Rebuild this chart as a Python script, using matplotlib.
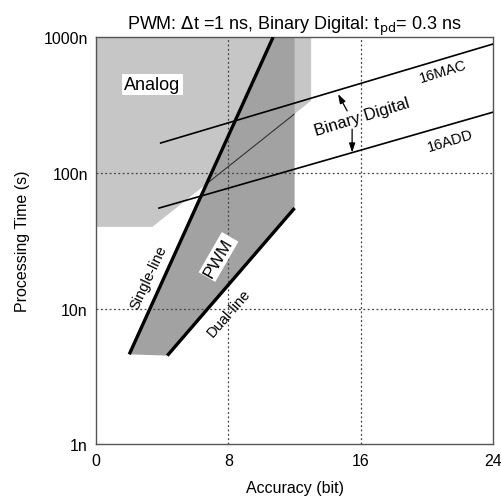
import matplotlib
matplotlib.use("Agg")
import matplotlib.pyplot as plt
from matplotlib.patches import Polygon
import numpy as np

plt.rcParams['font.family'] = ['Liberation Sans', 'DejaVu Sans']

# processing time in ns versus accuracy in bits
analog_bits = [0, 13, 13, 3.4, 0]
analog_ns = [1000, 1000, 340, 40, 40]

single_bits = [2.0, 10.7]
single_ns = [4.6, 1000]
dual_bits = [4.3, 12.0]
dual_ns = [4.5, 55]

mac_bits = [3.9, 24]
mac_ns = [166, 890]
add_bits = [3.8, 24]
add_ns = [55, 280]

xticks = [0, 8, 16, 24]
yticks = [1, 10, 100, 1000]
ytick_labels = ['1n', '10n', '100n', '1000n']

fig = plt.figure(figsize=(5.01, 5.02), dpi=100)
ax = fig.add_axes([0.192, 0.113, 0.792, 0.811])
ax.set_yscale('log')
ax.set_xlim(0, 24)
ax.set_ylim(1, 1000)

# analog region (light) and PWM region (darker), PWM drawn over analog
analog = Polygon(np.column_stack([analog_bits, analog_ns]), closed=True,
                 facecolor='#c6c6c6', edgecolor='none', zorder=1)
ax.add_patch(analog)
pwm_bits = [single_bits[0], dual_bits[0], dual_bits[1], dual_bits[1], single_bits[1]]
pwm_ns = [single_ns[0], dual_ns[0], dual_ns[1], 1000, single_ns[1]]
pwm = Polygon(np.column_stack([pwm_bits, pwm_ns]), closed=True,
              facecolor='#a2a2a2', edgecolor='none', zorder=2)
ax.add_patch(pwm)

# analog boundary only shows where it crosses the PWM area
edge, = ax.plot(analog_bits[2:4], analog_ns[2:4], color='#333333', lw=0.8, zorder=3)
edge.set_clip_path(pwm)

# dotted grid
for x in [8, 16]:
    ax.axvline(x, color='#444444', lw=0.9, ls=(0, (1.5, 2)), zorder=3)
for y in [10, 100]:
    ax.axhline(y, color='#444444', lw=0.9, ls=(0, (1.5, 2)), zorder=3)

ax.plot(single_bits, single_ns, color='black', lw=2.4, zorder=4, solid_capstyle='butt')
ax.plot(dual_bits, dual_ns, color='black', lw=2.4, zorder=4, solid_capstyle='butt')
ax.plot(mac_bits, mac_ns, color='black', lw=1.2, zorder=4)
ax.plot(add_bits, add_ns, color='black', lw=1.2, zorder=4)

white = dict(facecolor='white', edgecolor='none', pad=1.5)
ax.text(3.4, 450, 'Analog', fontsize=13, ha='center', va='center', bbox=white, zorder=5)
ax.text(7.4, 24, 'PWM', fontsize=12.5, ha='center', va='center', rotation=60,
        bbox=white, zorder=5)
ax.text(3.15, 17, 'Single-line', fontsize=10.5, ha='center', va='center', rotation=65, zorder=5)
ax.text(8.0, 9.4, 'Dual-line', fontsize=10.5, ha='center', va='center', rotation=49, zorder=5)

ax.text(16.1, 262, 'Binary Digital', fontsize=12, ha='center', va='center',
        rotation=17, zorder=5)
ax.text(21.0, 560, '16MAC', fontsize=10.5, ha='center', va='center', rotation=17, zorder=5)
ax.text(21.4, 175, '16ADD', fontsize=10.5, ha='center', va='center', rotation=17, zorder=5)
arrow = dict(arrowstyle='-|>,head_length=0.55,head_width=0.18', color='black', lw=0.9,
             shrinkA=0, shrinkB=0)
ax.annotate('', xy=(14.63, 381), xytext=(15.18, 286), arrowprops=arrow, zorder=5)
ax.annotate('', xy=(15.48, 141), xytext=(15.48, 210), arrowprops=arrow, zorder=5)

ax.set_xticks(xticks)
ax.set_yticks(yticks)
ax.set_yticklabels(ytick_labels)
ax.minorticks_off()
ax.tick_params(length=0, labelsize=11.5, pad=6)
for s in ax.spines.values():
    s.set_color('#555555')
    s.set_linewidth(1.0)

ax.set_xlabel('Accuracy (bit)', fontsize=11.5, labelpad=9)
ax.set_ylabel('Processing Time (s)', fontsize=11.5, labelpad=10)
ax.set_title(r'PWM: $\Delta$t =1 ns, Binary Digital: t$_{\rm pd}$= 0.3 ns',
             fontsize=13, pad=6)

fig.savefig('out.png', dpi=100)
